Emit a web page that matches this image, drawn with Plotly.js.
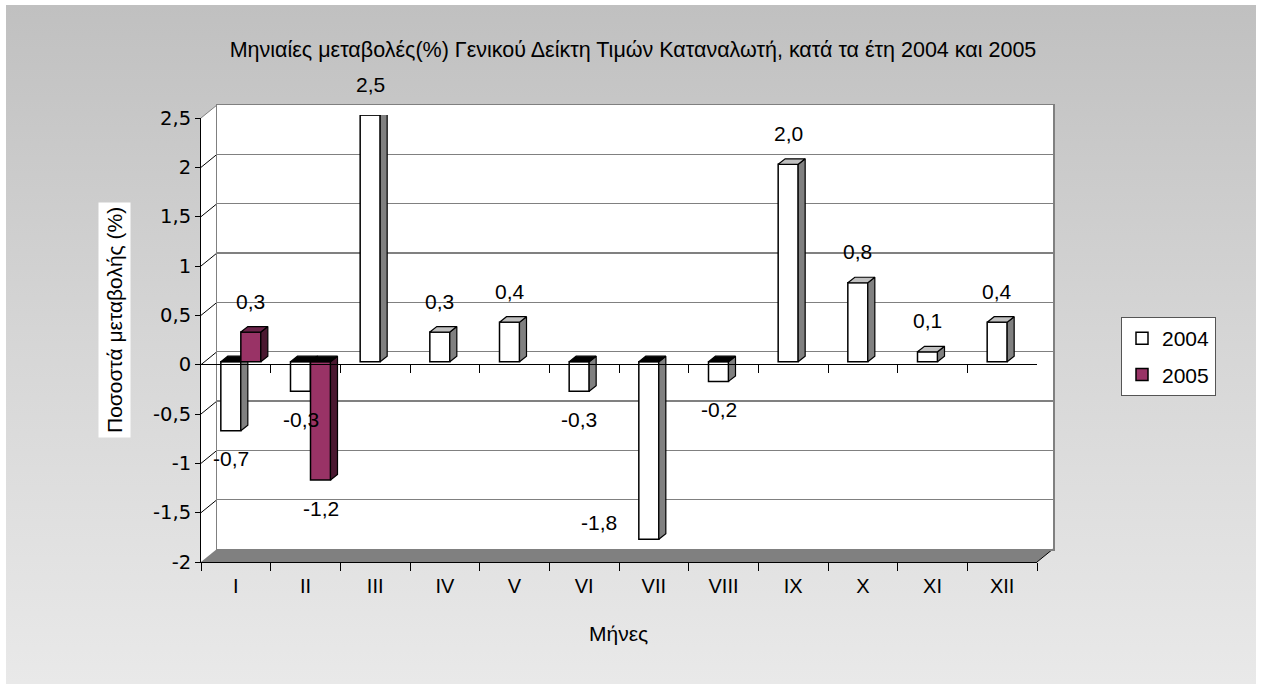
<!DOCTYPE html>
<html><head><meta charset="utf-8">
<script src="https://cdn.plot.ly/plotly-3.0.1.min.js"></script>
<style>
html,body{margin:0;padding:0;background:#fff;}
#wrap{position:relative;width:1263px;height:685px;background:#fff;overflow:hidden}
#bg{position:absolute;left:6px;top:5px;width:1250px;height:679px;background:linear-gradient(to bottom,#c0c0c0 0%,#d6d6d6 50%,#e9e9e9 100%);}
#chart{position:absolute;left:0;top:0;width:1263px;height:685px;}
</style></head><body>
<div id="wrap"><div id="bg"></div><div id="chart"></div></div>
<script>
// ---- data ----
const months = ['I','II','III','IV','V','VI','VII','VIII','IX','X','XI','XII'];
const values2004 = [-0.7, -0.3, 2.5, 0.3, 0.4, -0.3, -1.8, -0.2, 2.0, 0.8, 0.1, 0.4];
const values2005 = [0.3, -1.2, null, null, null, null, null, null, null, null, null, null];
const seriesNames = ['2004', '2005'];
const yTickVals = [-2, -1.5, -1, -0.5, 0, 0.5, 1, 1.5, 2, 2.5];
const yTickText = ['-2', '-1,5', '-1', '-0,5', '0', '0,5', '1', '1,5', '2', '2,5'];
const titleText = 'Μηνιαίες μεταβολές(%) Γενικού Δείκτη Τιμών Καταναλωτή, κατά τα έτη 2004 και 2005';
const yTitleText = 'Ποσοστά μεταβολής (%)';
const xTitleText = 'Μήνες';

// ---- geometry (layout / style) ----
const W = 1263, H = 685;
const yMin = -2, yMax = 2.5;
const FL = 201, FR = 1037, FT = 118, FB = 562;   // front plane
const BDX = 16, BDY = -13;                      // back wall offset
const CDX = 5, CDY = -3;                         // bar plane offset
const FACE_DX = 7, FACE_DY = 5.5;                // bar depth in px
const px = x => x / W;
const py = y => 1 - y / H;
const ppu = (FB - FT) / (yMax - yMin);
const catPx = (FR - FL) / months.length;
const barW = 20 / catPx;
const dxU = FACE_DX / catPx, dyU = FACE_DY / ppu;
const FONT = 'Liberation Sans, Arial, sans-serif';
const LBL = 21, TICK = 20;

const idx = months.map((_, i) => i);
const nulls = months.map(() => null);
const fmt = v => String(v.toFixed(1)).replace('.', ',');

const seriesDefs = [
  {name: seriesNames[0], vals: values2004, off: -barW, color: '#ffffff', topPos: '#c0c0c0', side: '#808080', xa: 'x3', ya: 'y3'},
  {name: seriesNames[1], vals: values2005, off: 0, color: '#993366', topPos: '#6b2349', side: '#4a1830', xa: 'x4', ya: 'y4'}
];

// helper (empty) traces so that the axis frames are built
const traces = [
  {type: 'scatter', mode: 'markers', x: months, y: nulls, xaxis: 'x', yaxis: 'y', showlegend: false, hoverinfo: 'skip'},
  {type: 'scatter', mode: 'markers', x: idx, y: nulls, xaxis: 'x2', yaxis: 'y2', showlegend: false, hoverinfo: 'skip'},
  {type: 'scatter', mode: 'markers', x: idx, y: nulls, xaxis: 'x5', yaxis: 'y5', showlegend: false, hoverinfo: 'skip'}
];
const annotations = [];
seriesDefs.forEach(s => {
  traces.push({
    type: 'bar', name: s.name, legendgroup: s.name,
    x: idx, y: s.vals, width: barW, offset: s.off,
    xaxis: s.xa, yaxis: s.ya,
    marker: {color: s.color, line: {color: '#000', width: 1.5}},
    hoverinfo: 'skip'
  });
  const topP = {x: [], y: []}, topN = {x: [], y: []}, side = {x: [], y: []};
  s.vals.forEach((v, i) => {
    if (v === null) return;
    const L = i + s.off, R = L + barW;
    const h = Math.max(v, 0);
    const t = v >= 0 ? topP : topN;
    t.x.push(L, R, R + dxU, L + dxU, L, null);
    t.y.push(h, h, h + dyU, h + dyU, h, null);
    side.x.push(R, R, R + dxU, R + dxU, R, null);
    side.y.push(0, v, v + dyU, dyU, 0, null);
    // data label
    const c = L + barW / 2;
    const f = {size: LBL, color: '#000', family: FONT};
    if (v >= 0) {
      annotations.push({xref: s.xa, yref: s.ya, x: c, y: v, text: fmt(v), showarrow: false, yshift: 31, font: f});
    } else if (v * ppu - 27 < yMin * ppu + 20) {
      annotations.push({xref: s.xa, yref: s.ya, x: L, y: v, text: fmt(v), showarrow: false, xanchor: 'right', xshift: -20, yshift: 17, font: f});
    } else {
      annotations.push({xref: s.xa, yref: s.ya, x: c, y: v, text: fmt(v), showarrow: false, yshift: -28, font: f});
    }
  });
  [[side, s.side], [topP, s.topPos], [topN, '#000000']].forEach(([f, col]) => {
    traces.push({
      type: 'scatter', mode: 'lines', x: f.x, y: f.y, fill: 'toself', fillcolor: col,
      line: {color: '#000', width: 1.2}, xaxis: s.xa, yaxis: s.ya,
      showlegend: false, legendgroup: s.name, hoverinfo: 'skip'
    });
  });
});

// walls
const fy = v => FB - (v - yMin) * ppu;
const by = v => fy(v) + BDY;
const P = (x, y) => px(x) + ' ' + py(y);
const shapes = [
  {type: 'path', xref: 'paper', yref: 'paper', layer: 'below', fillcolor: '#ffffff', line: {width: 0},
   path: 'M ' + P(FL, fy(yMax)) + ' L ' + P(FL + BDX, by(yMax)) + ' L ' + P(FL + BDX, by(yMin)) + ' L ' + P(FL, fy(yMin)) + ' Z'},
  {type: 'path', xref: 'paper', yref: 'paper', layer: 'below', fillcolor: '#ffffff', line: {width: 0},
   path: 'M ' + P(FL + BDX, by(yMax)) + ' L ' + P(FR + BDX, by(yMax)) + ' L ' + P(FR + BDX, by(yMin)) + ' L ' + P(FL + BDX, by(yMin)) + ' Z'},
  {type: 'path', xref: 'paper', yref: 'paper', layer: 'below', fillcolor: '#808080', line: {width: 0},
   path: 'M ' + P(FL, fy(yMin)) + ' L ' + P(FR, fy(yMin)) + ' L ' + P(FR + BDX, by(yMin)) + ' L ' + P(FL + BDX, by(yMin)) + ' Z'},
  {type: 'line', xref: 'paper', yref: 'paper', layer: 'below', x0: px(FR), y0: py(fy(yMin)), x1: px(FR + BDX), y1: py(by(yMin)), line: {color: '#000', width: 1}}
];
yTickVals.forEach(v => {
  if (v === yMin) return;
  shapes.push({type: 'line', xref: 'paper', yref: 'paper', layer: 'below',
    x0: px(FL), y0: py(fy(v)), x1: px(FL + BDX), y1: py(by(v)),
    line: {color: v === yMax ? '#808080' : '#000', width: 1}});
});

annotations.push({xref: 'paper', yref: 'paper', x: px(114.5), y: py(320.5), xanchor: 'center', yanchor: 'middle',
  text: yTitleText, textangle: -90, showarrow: false, bgcolor: '#ffffff', borderpad: 4,
  font: {size: LBL, color: '#000', family: FONT}});
annotations.push({xref: 'paper', yref: 'paper', x: px(618), y: py(633), xanchor: 'center', yanchor: 'middle',
  text: xTitleText, showarrow: false, font: {size: LBL, color: '#000', family: FONT}});

const zeroPos = py(fy(0));
const boundaries = months.map((_, i) => i - 0.5).concat([months.length - 0.5]);
const hidden = {visible: false, showgrid: false, zeroline: false, fixedrange: true};

const layout = {
  width: W, height: H, autosize: false,
  margin: {l: 0, r: 0, t: 0, b: 0},
  paper_bgcolor: 'rgba(0,0,0,0)', plot_bgcolor: 'rgba(0,0,0,0)',
  font: {family: FONT, color: '#000', size: TICK},
  separators: ',.',
  barmode: 'overlay',
  showlegend: true,
  title: {text: titleText, font: {size: 21.5, color: '#000', family: FONT}, x: px(633), xanchor: 'center', xref: 'paper', yref: 'paper', y: py(49), yanchor: 'middle'},
  xaxis: {domain: [px(FL), px(FR)], anchor: 'y', type: 'category', categoryorder: 'array', categoryarray: months,
    range: [-0.5, months.length - 0.5], tickson: 'boundaries', ticks: 'outside', ticklen: 8, tickcolor: '#000', tickwidth: 1,
    showline: true, linecolor: '#000', linewidth: 1, showgrid: false, zeroline: false, automargin: false,
    tickfont: {size: TICK}, ticklabelstandoff: 6, fixedrange: true},
  yaxis: {domain: [py(FB), py(FT)], anchor: 'x', range: [yMin, yMax], tickvals: yTickVals, ticktext: yTickText,
    ticks: 'outside', ticklen: 5, tickcolor: '#000', showline: true, linecolor: '#000', linewidth: 1,
    showgrid: false, zeroline: false, automargin: false, tickfont: {size: 19.5, family: 'DejaVu Sans, Liberation Sans, sans-serif'}, fixedrange: true},
  // category axis line crossing at zero (ticks pointing down)
  xaxis5: {domain: [px(FL), px(FR)], anchor: 'y5', side: 'top', type: 'linear', range: [-0.5, months.length - 0.5],
    tickvals: boundaries, showticklabels: false, ticks: 'inside', ticklen: 8, tickcolor: '#000',
    showline: true, linecolor: '#000', linewidth: 1, showgrid: false, zeroline: false, automargin: false, fixedrange: true},
  yaxis5: Object.assign({domain: [py(FB), zeroPos], anchor: 'x5', range: [yMin, 0]}, hidden),
  xaxis2: {domain: [px(FL + BDX), px(FR + BDX)], anchor: 'y2', type: 'linear', range: [-0.5, months.length - 0.5],
    showticklabels: false, ticks: '', showgrid: false, zeroline: false, showline: true, mirror: true,
    linecolor: '#808080', linewidth: 1.5, fixedrange: true},
  yaxis2: {domain: [py(FB + BDY), py(FT + BDY)], anchor: 'x2', range: [yMin, yMax], tickvals: yTickVals,
    showticklabels: false, ticks: '', showgrid: true, gridcolor: '#808080', gridwidth: 1.5, zeroline: false,
    showline: true, mirror: true, linecolor: '#808080', linewidth: 1.5, fixedrange: true},
  xaxis3: Object.assign({domain: [px(FL + CDX), px(FR + CDX)], anchor: 'y3', type: 'linear', range: [-0.5, months.length - 0.5]}, hidden),
  yaxis3: Object.assign({domain: [py(FB + CDY), py(FT + CDY)], anchor: 'x3', range: [yMin, yMax]}, hidden),
  xaxis4: Object.assign({overlaying: 'x3', anchor: 'y4', type: 'linear', range: [-0.5, months.length - 0.5]}, hidden),
  yaxis4: Object.assign({overlaying: 'y3', anchor: 'x4', range: [yMin, yMax]}, hidden),
  legend: {x: px(1121), y: py(317), xanchor: 'left', yanchor: 'top', bgcolor: '#ffffff', bordercolor: '#555555',
    borderwidth: 1, font: {size: LBL, color: '#000', family: FONT}, traceorder: 'grouped', tracegroupgap: 6, itemwidth: 30},
  shapes: shapes,
  annotations: annotations
};

Plotly.newPlot('chart', traces, layout, {displayModeBar: false, staticPlot: true});
</script>
</body></html>
